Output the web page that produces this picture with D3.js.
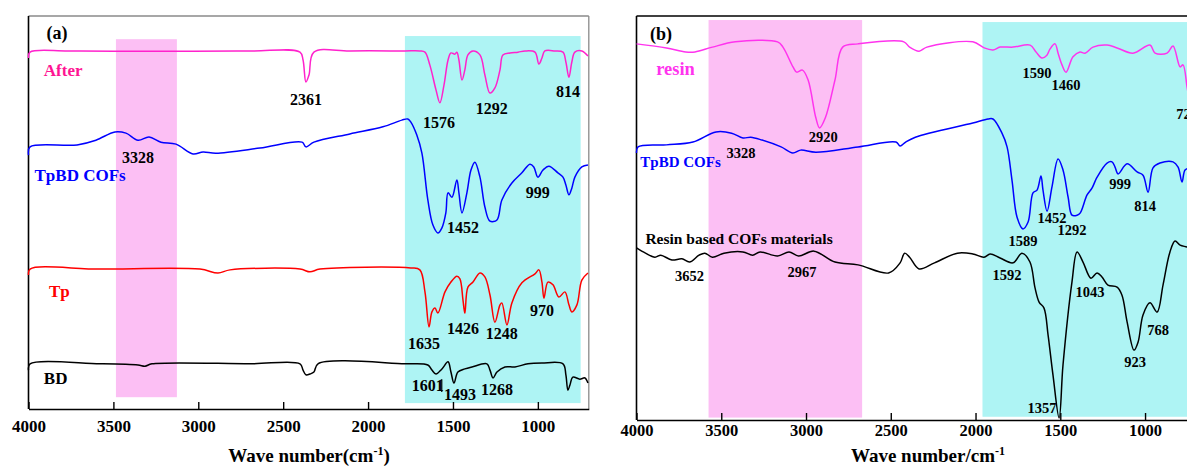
<!DOCTYPE html>
<html>
<head>
<meta charset="utf-8">
<script src="https://cdn.jsdelivr.net/npm/d3@7"></script>
<style>
  html, body { margin: 0; padding: 0; background: #ffffff; }
  svg { display: block; }
  text { font-family: "Liberation Serif", "Times New Roman", serif; font-weight: bold; }
</style>
</head>
<body>
<svg id="chart" width="1187" height="468"></svg>
<script>
// ---------- Panel (a): FT-IR spectra, [wavenumber, offset transmittance] ----------
const afterA = [[4000,89.3],[3991,90.8],[3761,91.1],[3284,91.0],[2696,91.1],[2401,90.8],[2383,88.8],[2366,83.2],[2348,85.0],[2319,90.8],[2107,91.1],[1784,91.1],[1695,91.1],[1665,90.8],[1636,87.5],[1600,81.2],[1577,77.9],[1553,82.4],[1529,88.8],[1512,90.6],[1488,90.3],[1477,90.8],[1465,88.8],[1447,83.7],[1430,86.3],[1412,90.1],[1382,91.1],[1341,90.1],[1312,85.0],[1282,80.4],[1253,81.7],[1223,86.3],[1206,90.1],[1164,90.6],[1117,90.8],[1076,91.1],[1017,90.8],[994,87.8],[976,89.3],[959,91.1],[900,91.1],[852,90.8],[835,88.3],[817,84.4],[800,88.3],[782,90.8],[741,91.1],[705,89.8]];

const tpbdA = [[4000,64.6],[3991,66.7],[3714,67.2],[3603,68.4],[3491,70.5],[3426,70.2],[3355,68.4],[3290,69.2],[3220,67.9],[3131,67.4],[3031,64.9],[2972,65.4],[2896,65.1],[2637,66.4],[2389,67.9],[2366,66.7],[2319,67.9],[2107,70.0],[1913,71.8],[1801,73.5],[1766,73.8],[1748,73.0],[1713,69.7],[1683,65.1],[1648,53.2],[1618,46.8],[1589,44.8],[1565,46.1],[1542,49.9],[1529,55.0],[1506,53.9],[1477,58.3],[1465,55.0],[1447,49.9],[1418,55.0],[1394,60.8],[1371,62.8],[1341,59.0],[1312,51.4],[1282,47.8],[1241,48.1],[1212,53.2],[1153,57.5],[1094,60.1],[1047,62.3],[1024,61.6],[1000,59.0],[970,60.8],[935,61.8],[882,60.1],[852,59.0],[835,57.0],[817,54.5],[800,56.2],[782,59.0],[741,61.6],[705,62.1]];

const tpA = [[4000,34.1],[3991,35.6],[3579,35.6],[2990,35.6],[2884,34.6],[2813,35.4],[2401,35.6],[2342,34.9],[2283,35.6],[1748,35.9],[1695,35.4],[1665,29.8],[1641,20.9],[1624,24.7],[1606,25.7],[1589,24.4],[1547,29.8],[1512,32.3],[1477,33.8],[1459,33.1],[1441,27.7],[1430,24.4],[1412,31.0],[1382,32.3],[1341,34.6],[1312,33.6],[1282,29.0],[1253,22.1],[1223,26.5],[1212,27.0],[1182,21.4],[1153,27.0],[1094,32.1],[1017,34.4],[994,35.4],[976,32.3],[964,28.2],[941,32.3],[911,31.6],[876,28.5],[841,29.8],[817,26.5],[800,24.7],[770,26.5],[741,32.8],[705,34.6]];

const bdA = [[4000,9.9],[3991,11.5],[3579,11.5],[3355,11.2],[3314,10.9],[3273,11.5],[2696,11.5],[2401,11.5],[2383,9.9],[2366,8.7],[2342,8.9],[2319,9.4],[2295,11.5],[1783,11.5],[1648,11.2],[1624,9.9],[1600,8.9],[1565,10.2],[1529,12.0],[1512,9.4],[1494,6.6],[1471,9.4],[1430,10.2],[1388,10.7],[1300,11.5],[1282,9.9],[1264,7.9],[1241,9.4],[1194,10.7],[1135,10.7],[1058,11.5],[976,11.7],[852,11.5],[835,8.7],[823,4.8],[811,6.1],[794,8.1],[753,7.6],[723,7.9],[705,6.6]];

// ---------- Panel (b) ----------
const resinB = [[4000,93.1],[3823,92.1],[3710,91.1],[3655,91.1],[3552,92.3],[3417,93.6],[3168,93.6],[3136,92.3],[3077,87.4],[3055,86.1],[3021,86.6],[2988,84.2],[2942,74.8],[2920,72.3],[2886,74.8],[2829,84.2],[2784,92.3],[2693,93.1],[2423,93.6],[2389,92.3],[2333,91.3],[2287,92.3],[2016,93.6],[1949,92.1],[1897,91.6],[1855,92.3],[1779,92.3],[1678,92.8],[1643,91.1],[1608,89.6],[1579,90.3],[1561,91.8],[1531,93.1],[1513,90.8],[1490,87.9],[1466,86.1],[1425,89.9],[1384,91.1],[1354,90.8],[1307,92.3],[1224,92.8],[1165,92.1],[1071,90.8],[971,92.8],[941,90.8],[870,90.8],[835,92.6],[793,87.4],[776,87.9],[752,82.4],[735,78.0],[705,73.0]];

const tpbdB = [[4000,66.1],[3991,67.6],[3823,68.1],[3667,68.8],[3531,71.3],[3439,71.0],[3372,69.8],[3326,70.0],[3260,69.3],[3147,67.6],[3078,66.1],[3032,66.8],[2942,66.3],[2693,67.6],[2469,68.8],[2445,67.8],[2412,68.8],[2355,70.0],[2016,73.5],[1926,74.5],[1897,74.5],[1844,71.0],[1814,67.6],[1785,59.4],[1755,50.2],[1720,47.3],[1690,49.0],[1661,56.2],[1637,56.9],[1614,60.4],[1602,56.9],[1578,51.7],[1549,57.7],[1513,64.6],[1484,61.9],[1454,55.2],[1431,50.7],[1401,50.7],[1383,51.2],[1342,55.7],[1313,57.4],[1283,60.1],[1224,63.6],[1195,63.9],[1177,62.6],[1159,60.9],[1106,63.4],[1047,61.4],[1012,60.6],[982,56.4],[953,62.4],[912,63.6],[835,63.9],[805,62.6],[782,58.9],[764,61.9],[735,62.4],[705,62.9]];

const resinCofB = [[4000,42.6],[3947,41.3],[3891,40.3],[3857,40.8],[3791,39.6],[3732,39.9],[3687,39.1],[3631,40.8],[3597,41.3],[3552,40.3],[3484,41.3],[3372,41.6],[3315,40.8],[3271,41.6],[3168,40.6],[3100,41.6],[3044,40.6],[2953,41.8],[2829,39.1],[2693,38.4],[2513,36.4],[2445,38.9],[2418,41.3],[2389,40.3],[2333,37.4],[2242,38.9],[2107,41.3],[2016,41.1],[1950,40.3],[1914,41.1],[1855,40.1],[1779,38.9],[1726,41.3],[1679,39.1],[1649,32.7],[1625,29.2],[1596,27.7],[1572,21.0],[1543,11.1],[1507,0.5],[1484,13.6],[1431,34.2],[1401,41.6],[1366,39.1],[1319,35.1],[1283,36.4],[1254,35.4],[1219,33.4],[1165,32.9],[1136,30.9],[1106,24.3],[1065,17.3],[1041,19.3],[1012,26.0],[971,29.0],[929,26.7],[894,33.4],[853,41.6],[823,44.3],[793,43.3],[752,42.8],[705,42.1]];

// Shaded regions: [from wavenumber, to wavenumber, low, high, fill]
const bandsA = [[3485,3126,3.0,94.1,"pink"],[1783,748,1.5,94.9,"cyan"]];
const bandsB = [[3575,2669,0.6,99.0,"pink"],[1959,700,0.8,98.5,"cyan"]];

// Axis tick values
const tickValues = [4000,3500,3000,2500,2000,1500,1000];

// Peak annotations: [text, wavenumber, level]
const peaksA = [["2361",2366,78.9],["1576",1582,72.8],["1292",1271,76.6],["814",823,80.7],
  ["3328",3355,64.1],["1452",1441,46.1],["999",1000,55.2],
  ["1635",1671,16.8],["1426",1441,20.4],["1248",1212,19.3],["970",976,25.2],
  ["1601",1648,6.1],["1493",1459,3.8],["1268",1241,5.1]];
const peaksB = [["2920",2898,70.0],["1590",1637,85.9],["1460",1466,82.9],["720",752,75.7],
  ["3328",3383,66.1],["1589",1720,44.3],["1452",1549,50.0],["1292",1431,47.0],["999",1147,58.4],["814",1000,53.0],
  ["3652",3687,35.6],["2967",3024,36.6],["1592",1814,35.9],["1043",1325,31.7],["768",923,22.3],["923",1059,14.4],["1357",1608,3.0]];

// Series names: [text, wavenumber (centre), level, colour]
const namesA = [["After",3796,86.3,"#ff1493"],["TpBD COFs",3696,59.5,"#0000ff"],["Tp",3818,30.0,"#ff0000"],["BD",3840,7.9,"#000000"]];
const namesB = [["resin",3770,86.9,"#ff33ee"],["TpBD COFs",3740,63.9,"#0000ff"],["Resin based COFs materials",3395,44.8,"#000000"]];

const colors = { pink: "#fcbff4", cyan: "#aef4f4" };

const svg = d3.select("#chart");

function panel(cfg) {
  const x = d3.scaleLinear().domain([4000, 700]).range(cfg.xr);
  const y = d3.scaleLinear().domain([0, 100]).range(cfg.yr);
  const g = svg.append("g");

  // shaded regions
  g.selectAll("rect.band").data(cfg.bands).join("rect")
    .attr("class", "band")
    .attr("x", d => x(d[0]))
    .attr("width", d => x(d[1]) - x(d[0]))
    .attr("y", d => y(d[3]))
    .attr("height", d => y(d[2]) - y(d[3]))
    .attr("fill", d => colors[d[4]]);

  // frame: top, right and left edges
  g.append("line").attr("x1", cfg.xr[0]).attr("x2", cfg.xr[1]).attr("y1", cfg.yr[1]).attr("y2", cfg.yr[1])
    .attr("stroke", cfg.topColor).attr("stroke-width", 1.3);
  g.append("line").attr("x1", cfg.xr[1]).attr("x2", cfg.xr[1]).attr("y1", cfg.yr[1]).attr("y2", cfg.yr[0])
    .attr("stroke", cfg.topColor).attr("stroke-width", 1.3);
  g.append("line").attr("x1", cfg.xr[0]).attr("x2", cfg.xr[0]).attr("y1", cfg.yr[1]).attr("y2", cfg.yr[0])
    .attr("stroke", "#000").attr("stroke-width", 1.6);

  // spectra
  const line = d3.line().x(d => x(d[0])).y(d => y(d[1])).curve(d3.curveCatmullRom.alpha(0.5));
  g.selectAll("path.spec").data(cfg.series).join("path")
    .attr("class", "spec")
    .attr("d", d => line(d.values))
    .attr("fill", "none")
    .attr("stroke", d => d.color)
    .attr("stroke-width", 1.5)
    .attr("stroke-linejoin", "round");

  // bottom axis with inward ticks
  const ax = g.append("g").attr("transform", `translate(0,${cfg.yr[0]})`)
    .call(d3.axisBottom(x).tickValues(tickValues).tickFormat(d3.format("d"))
      .tickSizeInner(-7).tickSizeOuter(0).tickPadding(cfg.tickPad));
  ax.select(".domain").attr("stroke", "#000").attr("stroke-width", 1.6);
  ax.selectAll(".tick line").attr("stroke", "#000").attr("stroke-width", 1.4);
  ax.selectAll(".tick text").attr("fill", "#000")
    .style("font-family", '"Liberation Serif", "Times New Roman", serif')
    .style("font-weight", "bold").style("font-size", cfg.tickFont + "px");

  // axis title with superscript
  const t = g.append("text").attr("x", cfg.titleX).attr("y", cfg.titleY)
    .attr("text-anchor", "middle").style("font-size", "19px").attr("fill", "#000");
  t.append("tspan").text(cfg.titleMain);
  t.append("tspan").attr("baseline-shift", "super").style("font-size", "12px").text("-1");
  if (cfg.titleEnd) t.append("tspan").text(cfg.titleEnd);

  // panel tag
  g.append("text").attr("x", cfg.tag[1]).attr("y", cfg.tag[2]).attr("dy", "0.35em")
    .attr("text-anchor", "middle").style("font-size", "18px").text(cfg.tag[0]);

  // series names
  g.selectAll("text.name").data(cfg.names).join("text")
    .attr("class", "name")
    .attr("x", d => x(d[1])).attr("y", d => y(d[2])).attr("dy", "0.35em")
    .attr("text-anchor", "middle")
    .attr("fill", d => d[3])
    .style("font-size", (d, i) => cfg.nameFont[i] + "px")
    .text(d => d[0]);

  // peak labels
  g.selectAll("text.peak").data(cfg.peaks).join("text")
    .attr("class", "peak")
    .attr("x", d => x(d[1])).attr("y", d => y(d[2])).attr("dy", "0.35em")
    .attr("text-anchor", "middle")
    .attr("fill", "#000")
    .style("font-size", cfg.peakFont + "px")
    .text(d => d[0]);

  return { x, y, g };
}

const pa = panel({
  xr: [28.5, 588.8], yr: [409, 16], bands: bandsA, topColor: "#8a8a8a",
  series: [
    { values: afterA, color: "#ff22cc" },
    { values: tpbdA, color: "#0000ff" },
    { values: tpA, color: "#ff0000" },
    { values: bdA, color: "#000000" }
  ],
  tickPad: 11, tickFont: 17,
  titleX: 309, titleY: 462, titleMain: "Wave number(cm", titleEnd: ")",
  tag: ["(a)", 57, 33],
  names: namesA, nameFont: [17, 17, 17, 17],
  peaks: peaksA, peakFont: 16
});

// leader mark between the 1601 and 1493 labels
pa.g.append("path")
  .attr("d", d3.line()([[pa.x(1572), pa.y(7.4)], [pa.x(1566), pa.y(7.4)], [pa.x(1566), pa.y(4.3)]]))
  .attr("fill", "none").attr("stroke", "#000").attr("stroke-width", 1.2);

panel({
  xr: [636.5, 1195.9], yr: [420, 16], bands: bandsB, topColor: "#000000",
  series: [
    { values: resinB, color: "#ff33ee" },
    { values: tpbdB, color: "#0000ff" },
    { values: resinCofB, color: "#000000" }
  ],
  tickPad: 4, tickFont: 16.5,
  titleX: 928, titleY: 462, titleMain: "Wave number/cm", titleEnd: null,
  tag: ["(b)", 661, 34],
  names: namesB, nameFont: [18.5, 15, 15.5],
  peaks: peaksB, peakFont: 14.5
});
</script>
</body>
</html>
